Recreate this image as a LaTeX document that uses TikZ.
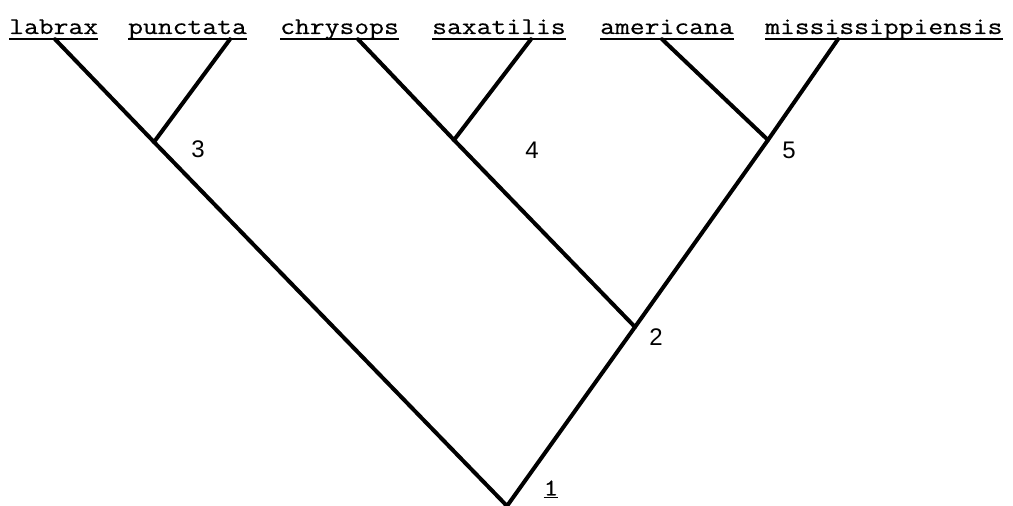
\documentclass[tikz,border=0pt]{standalone}
\usepackage{fontspec}
\newfontfamily\twfont{Latin Modern Mono}[FakeStretch=1.2,FakeBold=0.5]
\setsansfont{Liberation Sans}
\begin{document}
\begin{tikzpicture}[x=1pt,y=-1pt,
  leaf/.style={font=\fontsize{24}{27}\selectfont\twfont, inner sep=0pt, anchor=base west, text depth=5pt},
  num/.style={font=\fontsize{24}{26}\selectfont\sffamily, inner sep=0pt},
  numone/.style={font=\fontsize{24}{27}\selectfont\twfont, inner sep=0pt},
  branch/.style={line width=4pt, line join=round, line cap=round},
  ul/.style={line width=2pt}]
\useasboundingbox (0,0) rectangle (1013,506);
% leaf labels
\node[leaf] (labrax) at (9,34) {labrax};
\node[leaf] (punctata) at (128,34) {punctata};
\node[leaf] (chrysops) at (280,34) {chrysops};
\node[leaf] (saxatilis) at (432,34) {saxatilis};
\node[leaf] (americana) at (600,34) {americana};
\node[leaf] (miss) at (765,34) {mississippiensis};
% underlines
\foreach \n in {labrax,punctata,chrysops,saxatilis,americana,miss}
  \draw[ul] (\n.south west) -- (\n.south east);
% attachment points on the underlines
\coordinate (aLab) at ([xshift=46pt]labrax.south west);
\coordinate (aPun) at ([xshift=102pt]punctata.south west);
\coordinate (aChr) at ([xshift=78pt]chrysops.south west);
\coordinate (aSax) at ([xshift=99pt]saxatilis.south west);
\coordinate (aAme) at ([xshift=62pt]americana.south west);
\coordinate (aMis) at ([xshift=73pt]miss.south west);
% internal nodes
\coordinate (n1) at (507,506);
\coordinate (n2) at (635,327);
\coordinate (n3) at (154,142);
\coordinate (n4) at (454,140);
\coordinate (n5) at (768,140);
% branches
\draw[branch] (aLab) -- (n3) -- (n1) -- (n2) -- (n5) -- (aMis);
\draw[branch] (aPun) -- (n3);
\draw[branch] (aChr) -- (n4) -- (n2);
\draw[branch] (aSax) -- (n4);
\draw[branch] (aAme) -- (n5);
% node numbers
\node[numone] (l1) at (551,489) {\underline{1}};
\node[num] (l2) at (656,337) {2};
\node[num] (l3) at (198,149) {3};
\node[num] (l4) at (532,150) {4};
\node[num] (l5) at (789,150) {5};
\end{tikzpicture}
\end{document}
